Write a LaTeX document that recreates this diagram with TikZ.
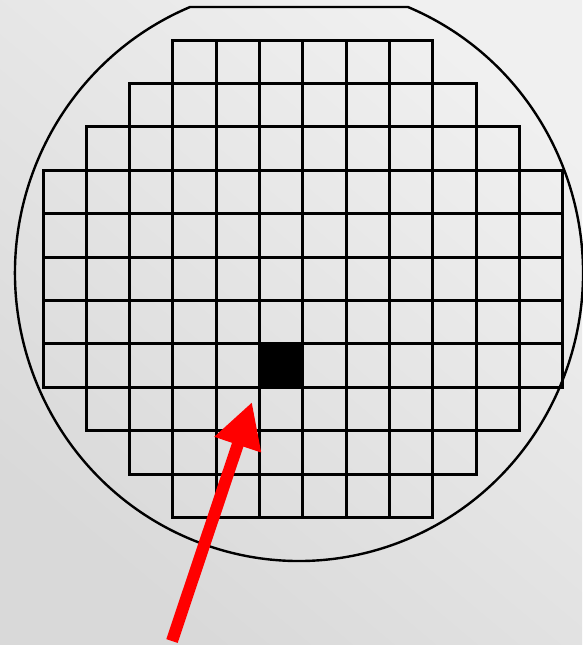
\documentclass[tikz,border=0pt]{standalone}
\usetikzlibrary{arrows.meta}
\begin{document}
\begin{tikzpicture}[x=1pt,y=-1pt,
  die/.style={draw=black,line width=3pt},
  wafer/.style={draw=black,line width=2.4pt},
  pointer/.style={draw=red,line width=12pt,-{Triangle[length=45pt,width=46pt]}}]
\useasboundingbox (0,0) rectangle (582,645);
\shade[top color=black!6, bottom color=black!15, shading angle=-40] (0,0) rectangle (582,645);
% wafer outline with flat
\draw[wafer] (407.9,7) arc[start angle=-67.45, end angle=247.45, x radius=284, y radius=288] -- cycle;
% selected die
\fill[black] ({43+43.33*5},{40+43.4*7}) rectangle ++(43.33,43.4);
% die grid
\foreach \r/\a/\b in {0/3/8,1/2/9,2/1/10,3/0/11,4/0/11,5/0/11,6/0/11,7/0/11,8/1/10,9/2/9,10/3/8}
  \foreach \c in {\a,...,\b}
    \draw[die] ({43+43.33*\c},{40+43.4*\r}) rectangle ++(43.33,43.4);
% arrow
\coordinate (tail) at (172,641);
\coordinate (tip) at (252,402);
\draw[pointer] (tail) -- (tip);
\end{tikzpicture}
\end{document}
